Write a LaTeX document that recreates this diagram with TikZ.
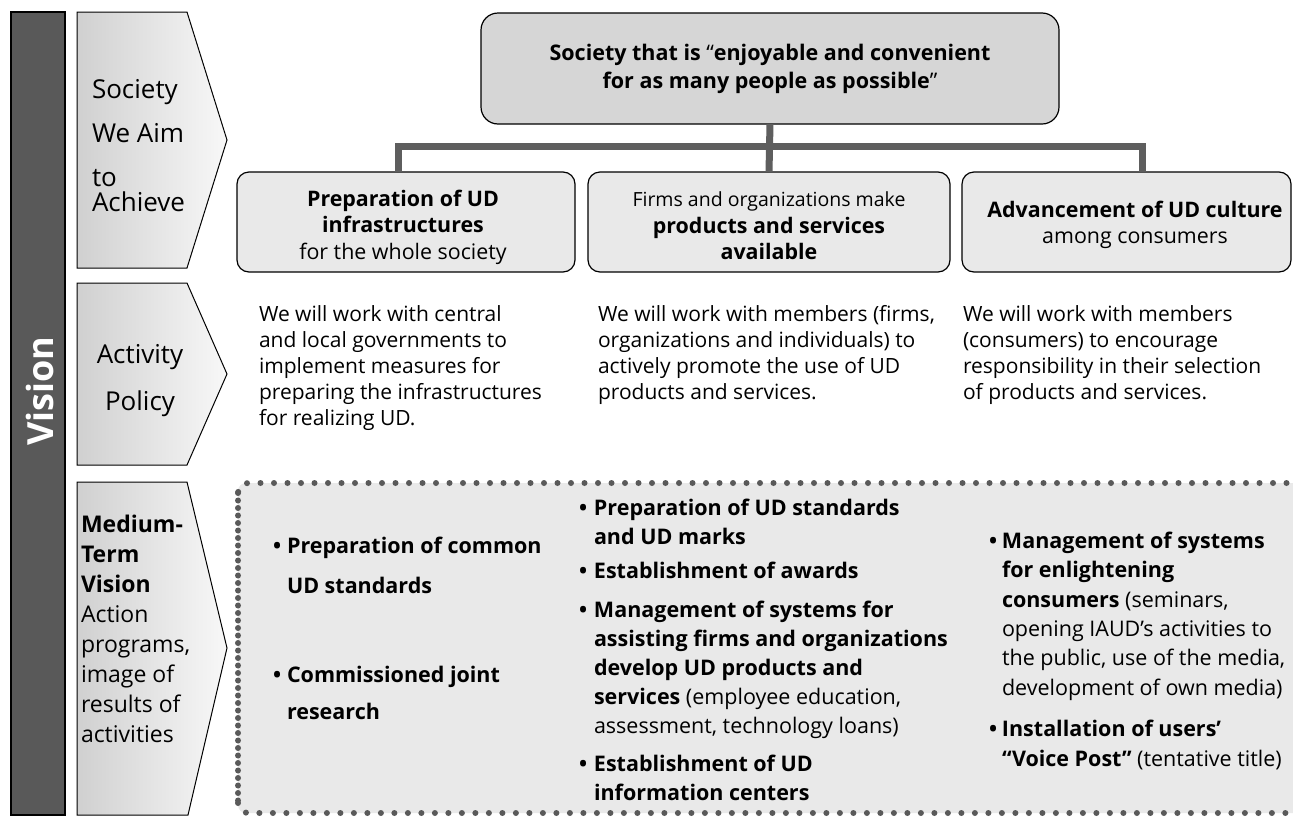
\documentclass[tikz,border=0pt]{standalone}
\usepackage{fontspec}
\setmainfont{Open Sans}
\usetikzlibrary{calc}
\definecolor{barcol}{HTML}{595959}
\definecolor{topfill}{HTML}{D6D6D6}
\definecolor{boxfill}{HTML}{E9E9E9}
\definecolor{connc}{HTML}{5E5E5E}
\definecolor{arrL}{HTML}{D0D0D0}
\definecolor{arrR}{HTML}{F8F8F8}
\definecolor{dotc}{HTML}{5A5A5A}
\newcommand\bulA{\makebox[14pt][l]{\textbf{•}}}
\newcommand\indA{\hspace*{14pt}}
\newcommand\bulB{\makebox[15pt][l]{\textbf{•}}}
\newcommand\indB{\hspace*{15pt}}
\newcommand\bulC{\makebox[13pt][l]{\textbf{•}}}
\newcommand\indC{\hspace*{13pt}}
\begin{document}
\begin{tikzpicture}[x=1pt,y=-1pt,
  every node/.style={inner sep=0pt, outer sep=0pt},
  arrowshape/.style={draw=black, line width=1pt, left color=arrL, right color=arrR},
  roundbox/.style={draw=black, line width=1.2pt, rounded corners=12pt, fill=boxfill},
  topbox/.style={roundbox, fill=topfill, rounded corners=17pt},
  boxtext/.style={align=center, font=\fontsize{21.4}{26.5}\selectfont},
  conn/.style={draw=connc, line width=7pt},
  lbl/.style={align=left, anchor=base west, font=\fontsize{26}{44}\selectfont},
  pol/.style={align=left, anchor=base west, font=\fontsize{21}{26}\selectfont},
  bul/.style={align=left, anchor=base west, font=\fontsize{21.5}{29}\selectfont},
  dotline/.style={draw=dotc, line width=6pt, line cap=round},
]
\useasboundingbox (0,0) rectangle (1293,817);

% Vision bar
\node[draw=black, line width=1.2pt, fill=barcol, minimum width=54pt, minimum height=803pt] (bar) at (38,413.5) {};
\node[rotate=90, text=white, font=\fontsize{36}{36}\selectfont\bfseries] (vision) at (40,391) {Vision};

% Row arrows
\path[arrowshape] (77,12) -- (187,12) -- (227,140) -- (187,268) -- (77,268) -- cycle;
\path[arrowshape] (77,283) -- (187,283) -- (227,374) -- (187,465) -- (77,465) -- cycle;
\path[arrowshape] (77,482) -- (187,482) -- (227,648) -- (188,815) -- (77,815) -- cycle;

\node[lbl] (l1) at (92,211) {Society\\We Aim\\to\\[-19pt]Achieve};
\node[lbl, align=center, anchor=base, font=\fontsize{26}{47}\selectfont] (l2) at (140,410) {Activity\\Policy};
\node[lbl, font=\fontsize{23}{30}\selectfont] (l3) at (81,742) {\textbf{Medium-}\\\textbf{Term}\\\textbf{Vision}\\Action\\programs,\\image of\\results of\\activities};

% Top box and second row
\node[topbox, minimum width=578pt, minimum height=111pt] (top) at (770,68.5) {};
\node[boxtext, font=\fontsize{21.5}{27.5}\selectfont\bfseries] (topt) at (770,69) {Society that is \textmd{“}enjoyable and convenient\\for as many people as possible\textmd{”}};

\node[roundbox, minimum width=338pt, minimum height=100pt] (b1) at (406,222) {};
\node[roundbox, minimum width=362pt, minimum height=100pt] (b2) at (769,222) {};
\node[roundbox, minimum width=329pt, minimum height=100pt] (b3) at (1126.5,222) {};

\node[boxtext] (b1t) at (403,227) {\textbf{Preparation of UD}\\\textbf{infrastructures}\\for the whole society};
\node[boxtext] (b2t) at (769,226) {{\fontsize{19.5}{26.5}\selectfont Firms and organizations make}\\\textbf{products and services}\\\textbf{available}};
\node[boxtext] (b3t) at (1135,225) {\textbf{Advancement of UD culture}\\among consumers};

\coordinate (hj) at (770,146);
\draw[conn] (top.south) -- (b2.north);
\draw[conn] ([xshift=-8pt]b1.north) |- (hj) -| ([xshift=15.5pt]b3.north);

% Activity policy texts
\node[pol] (p1) at (259,425) {We will work with central\\and local governments to\\implement measures for\\preparing the infrastructures\\for realizing UD.};
\node[pol] (p2) at (598,399) {We will work with members (firms,\\organizations and individuals) to\\actively promote the use of UD\\products and services.};
\node[pol] (p3) at (963,399) {We will work with members\\(consumers) to encourage\\responsibility in their selection\\of products and services.};

% Medium-term box
\fill[boxfill, rounded corners=8pt] (238,483) rectangle (1320,813);
\draw[dotline, dash pattern=on 0pt off 13.5pt] (1300,483) -- (248,483) to[out=180,in=90] (238,493);
\draw[dotline, dash pattern=on 0pt off 7.5pt] (238,493) -- (238,803);
\draw[dotline, dash pattern=on 0pt off 13.5pt] (238,803) to[out=-90,in=180] (248,813) -- (1300,813);

\node[bul, font=\fontsize{21.5}{40}\selectfont\bfseries] (m1) at (273,593) {\bulA Preparation of common\\\indA UD standards};
\node[bul, font=\fontsize{21.5}{37}\selectfont\bfseries] (m2) at (273,719) {\bulA Commissioned joint\\\indA research};

\node[bul] (m3) at (579,800) {\textbf{\bulB Preparation of UD standards}\\\textbf{\indB and UD marks}\\[5pt]\textbf{\bulB Establishment of awards}\\[10pt]\textbf{\bulB Management of systems for}\\\textbf{\indB assisting firms and organizations}\\\textbf{\indB develop UD products and}\\\indB\textbf{services} (employee education,\\\indB assessment, technology loans)\\[9pt]\textbf{\bulB Establishment of UD}\\\textbf{\indB information centers}};

\node[bul, font=\fontsize{21.5}{29.4}\selectfont] (m4) at (989,766) {\textbf{\bulC Management of systems}\\\textbf{\indC for enlightening}\\\indC\textbf{consumers} (seminars,\\\indC opening IAUD’s activities to\\\indC the public, use of the media,\\\indC development of own media)\\[12pt]\textbf{\bulC Installation of users’}\\\indC\textbf{“Voice Post”} (tentative title)};
\end{tikzpicture}
\end{document}
